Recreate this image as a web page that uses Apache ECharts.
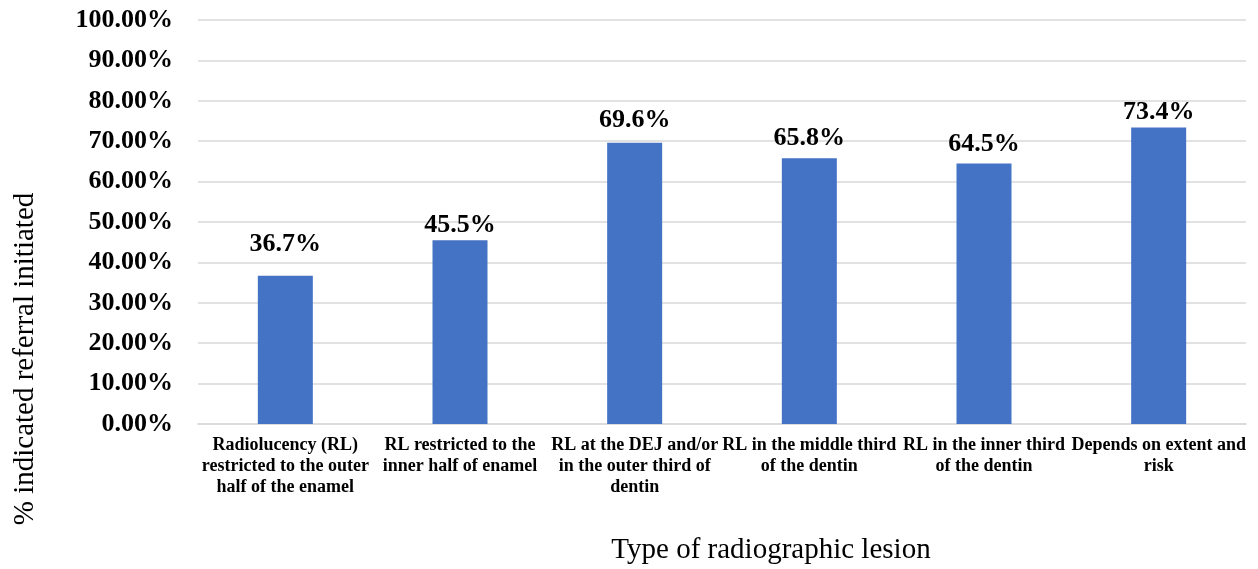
<!DOCTYPE html>
<html>
<head>
<meta charset="utf-8">
<title>Referral by radiographic lesion</title>
<script src="https://cdn.jsdelivr.net/npm/echarts@6/dist/echarts.min.js"></script>
<style>
	html, body { margin: 0; padding: 0; background: #fff; }
	#chart { width: 1258px; height: 569px; }
</style>
</head>
<body>
<div id="chart"></div>
<script>
// 数据
const categories = [
	'Radiolucency (RL)\nrestricted to the outer\nhalf of the enamel',
	'RL restricted to the\ninner half of enamel',
	'RL at the DEJ and/or\nin the outer third of\ndentin',
	'RL in the middle third\nof the dentin',
	'RL in the inner third\nof the dentin',
	'Depends on extent and\nrisk'
];
const referralPct = [36.7, 45.5, 69.6, 65.8, 64.5, 73.4];
const yTicks = { min: 0, max: 100, interval: 10 };
const yAxisTitle = '% indicated referral initiated';
const xAxisTitle = 'Type of radiographic lesion';

// 标签与柱顶的间距（原图中各标签手动摆放，不完全一致）
const labelGaps = [18, 2, 10, 7, 6, 2];

const SERIF = '"Liberation Serif", "Times New Roman", serif';

const chart = echarts.init(document.getElementById('chart'));

chart.setOption({
	animation: false,
	grid: { left: 198, right: 12, top: 20, bottom: 145 },
	xAxis: {
		type: 'category',
		data: categories,
		axisLine: { lineStyle: { color: '#d9d9d9', width: 1.5 } },
		axisTick: { show: false },
		axisLabel: {
			interval: 0,
			margin: 11,
			fontFamily: SERIF,
			fontWeight: 'bold',
			fontSize: 18,
			lineHeight: 21,
			color: '#000'
		}
	},
	yAxis: {
		type: 'value',
		min: yTicks.min,
		max: yTicks.max,
		interval: yTicks.interval,
		axisLine: { show: false },
		axisTick: { show: false },
		splitLine: { lineStyle: { color: '#d9d9d9', width: 1.5 } },
		axisLabel: {
			margin: 25,
			fontFamily: SERIF,
			fontWeight: 'bold',
			fontSize: 26,
			color: '#000',
			formatter: v => v.toFixed(2) + '%'
		}
	},
	series: [{
		type: 'bar',
		data: referralPct.map((v, i) => ({ value: v, label: { distance: labelGaps[i] } })),
		barWidth: 55,
		itemStyle: { color: '#4472C4' },
		label: {
			show: true,
			position: 'top',
			fontFamily: SERIF,
			fontWeight: 'bold',
			fontSize: 26,
			color: '#000',
			formatter: p => p.value.toFixed(1) + '%'
		}
	}],
	graphic: [
		{
			type: 'text',
			x: 25,
			y: 359,
			rotation: Math.PI / 2,
			style: {
				text: yAxisTitle,
				font: '29px ' + SERIF,
				fill: '#000',
				align: 'center',
				verticalAlign: 'middle'
			}
		},
		{
			type: 'text',
			x: 771,
			y: 550,
			style: {
				text: xAxisTitle,
				font: '29px ' + SERIF,
				fill: '#000',
				align: 'center',
				verticalAlign: 'middle'
			}
		}
	]
});
</script>
</body>
</html>
